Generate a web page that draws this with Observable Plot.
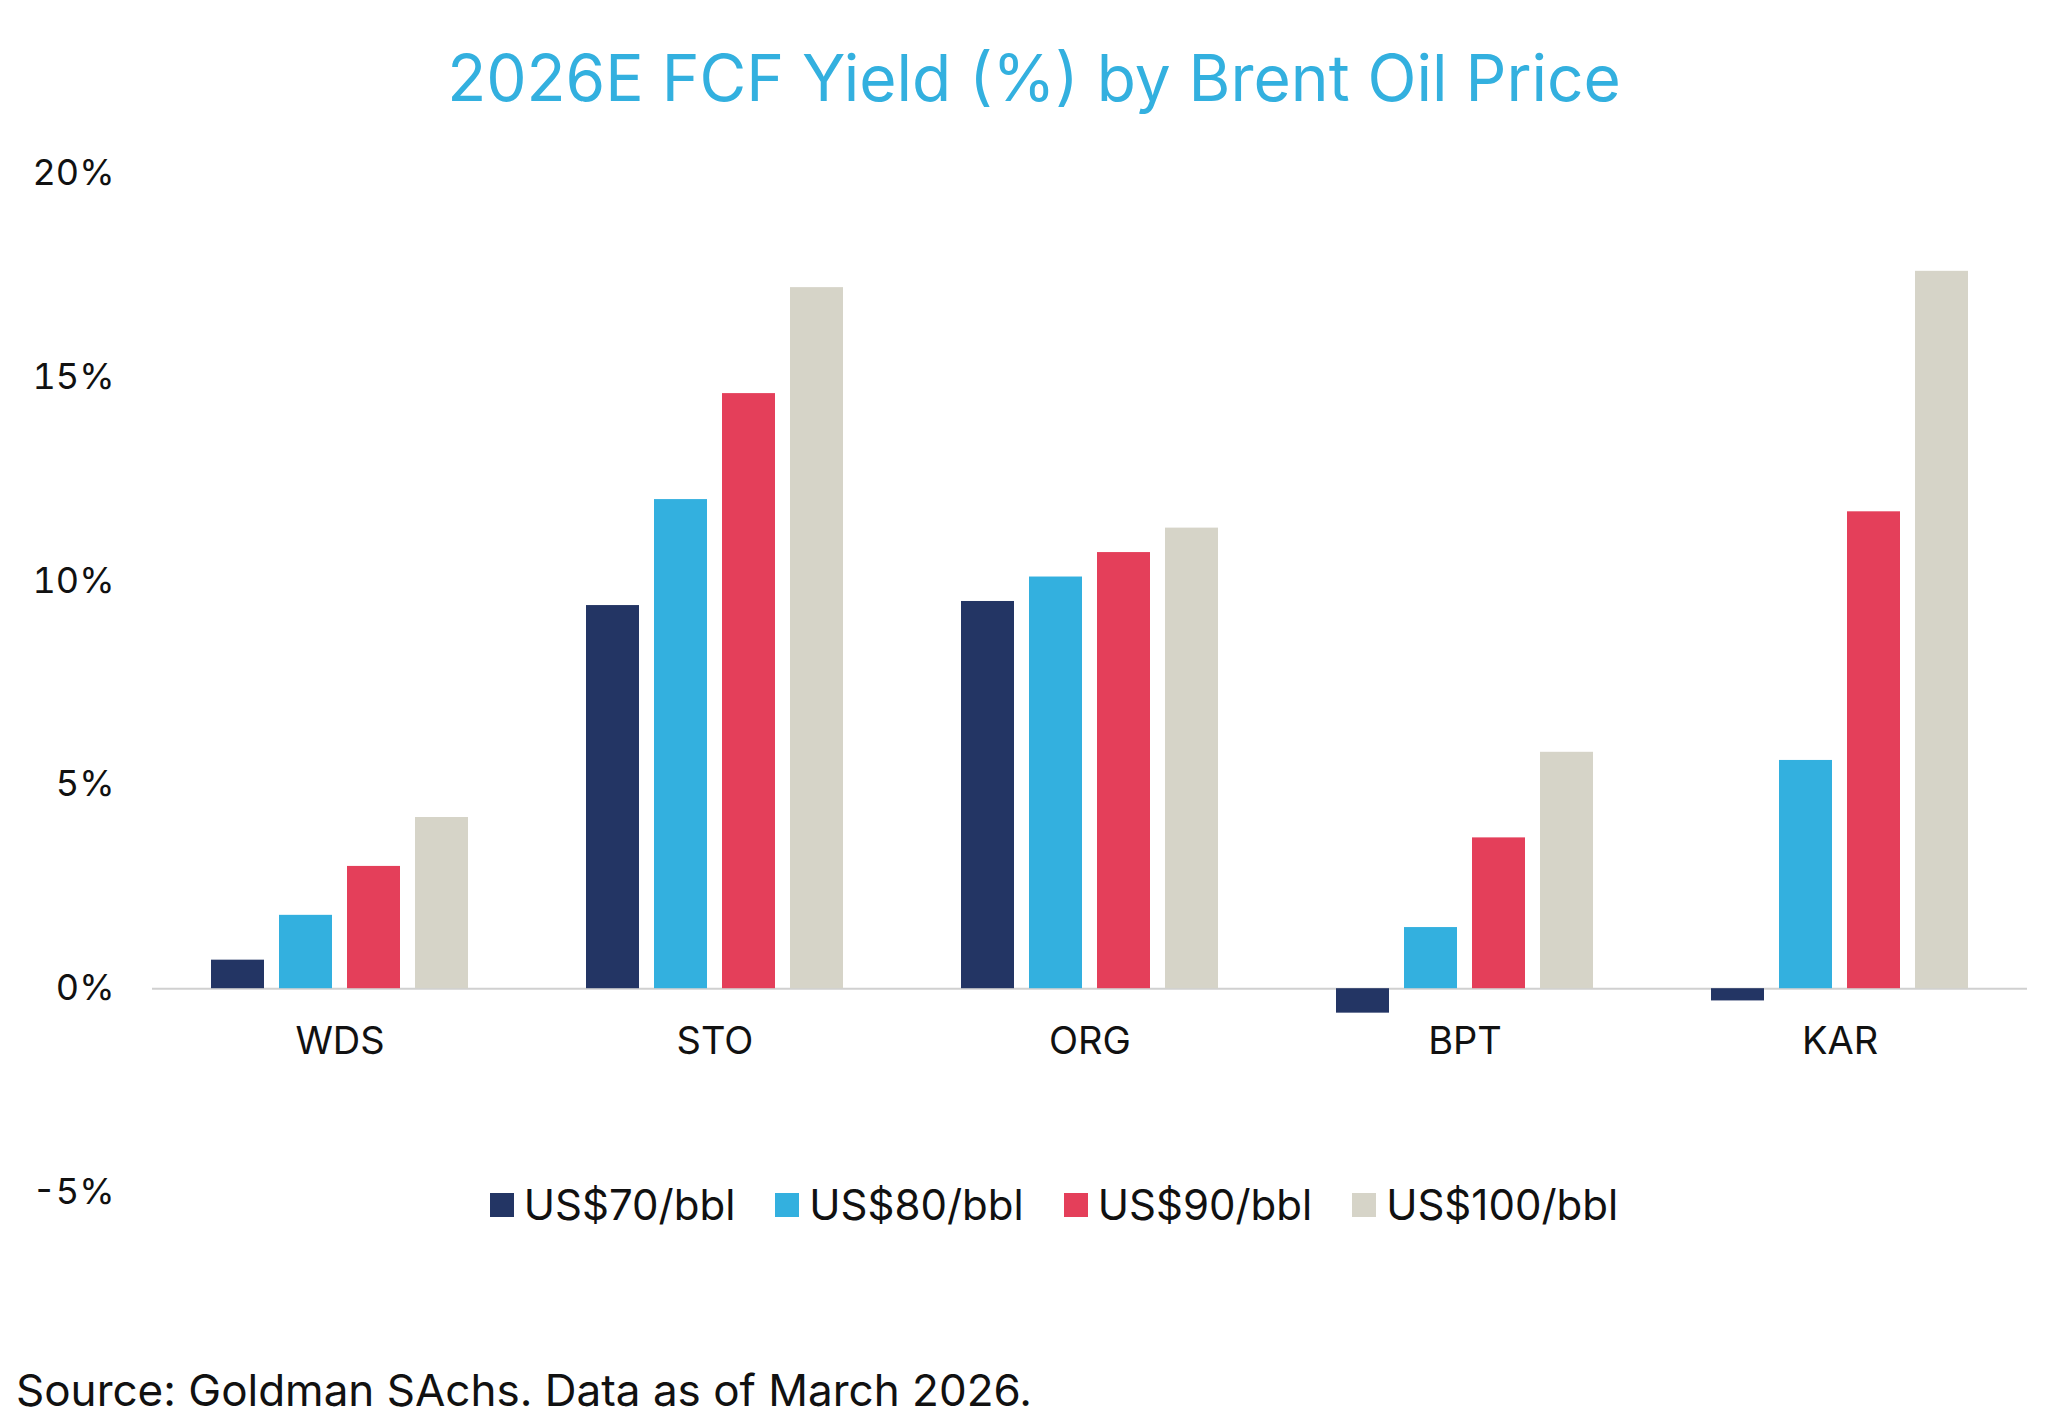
<!DOCTYPE html>
<html><head><meta charset="utf-8">
<script src="https://cdn.jsdelivr.net/npm/d3@7"></script>
<script src="https://cdn.jsdelivr.net/npm/@observablehq/plot@0.6"></script>
<style>
body{margin:0;background:#fff;font-family:Inter,Lato,sans-serif;}
#wrap{position:relative;width:2068px;height:1416px;overflow:hidden}
#title{position:absolute;top:40px;left:0;width:2068px;text-align:center;color:#33b0df;font-size:64px;line-height:1.2}
#legend{position:absolute;top:1180px;left:0;width:2068px;display:flex;justify-content:center;gap:40px;font-size:42px;line-height:1.2;color:#111;padding-left:40px;box-sizing:border-box}
#legend span.i{display:flex;align-items:center;gap:10px}
#legend span.s{width:24px;height:24px;display:inline-block}
#source{position:absolute;top:1368px;left:16px;font-size:44px;line-height:1;color:#111}
svg{position:absolute;top:0;left:0}
</style></head><body>
<div id="wrap">
<div id="plot"></div>
<div id="title">2026E FCF Yield (%) by Brent Oil Price</div>
<div id="legend"></div>
<div id="source">Source: Goldman SAchs. Data as of March 2026.</div>
</div>
<script>
const categories = ["WDS","STO","ORG","BPT","KAR"];
const series = ["US$70/bbl","US$80/bbl","US$90/bbl","US$100/bbl"];
const colors = ["#233564","#33b0df","#e43f5a","#d6d4c8"];
const v70 = [0.7, 9.4, 9.5, -0.6, -0.3];
const v80 = [1.8, 12.0, 10.1, 1.5, 5.6];
const v90 = [3.0, 14.6, 10.7, 3.7, 11.7];
const v100 = [4.2, 17.2, 11.3, 5.8, 17.6];
const yTicks = [-5, 0, 5, 10, 15, 20];

const vals = [v70, v80, v90, v100];
const data = [];
categories.forEach((c, i) => series.forEach((s, j) => data.push({cat: c, series: s, value: vals[j][i]})));

const chart = Plot.plot({
  width: 2068, height: 1416,
  marginTop: 173, marginBottom: 224, marginLeft: 150, marginRight: 40,
  style: {fontFamily: "Inter, Lato, sans-serif", fontSize: "36px", color: "#111"},
  fx: {domain: categories, padding: 0, axis: null},
  x: {domain: series, axis: null, paddingInner: 0.22, paddingOuter: 0.86},
  y: {domain: [-5, 20], ticks: yTicks, tickFormat: d => d + "%", tickSize: 0, tickPadding: 38, label: null},
  color: {domain: series, range: colors},
  marks: [
    Plot.ruleY([0], {stroke: "#d0d0d0", strokeWidth: 2}),
    Plot.barY(data, {fx: "cat", x: "series", y: "value", fill: "series"}),
    Plot.text(categories, {fx: d => d, y: -1.3, text: d => d, fontSize: 38, fill: "#111"})
  ]
});
document.getElementById("plot").appendChild(chart);
const lg = document.getElementById("legend");
series.forEach((s, i) => {
  lg.insertAdjacentHTML("beforeend", `<span class="i"><span class="s" style="background:${colors[i]}"></span>${s}</span>`);
});
</script>
</body></html>
